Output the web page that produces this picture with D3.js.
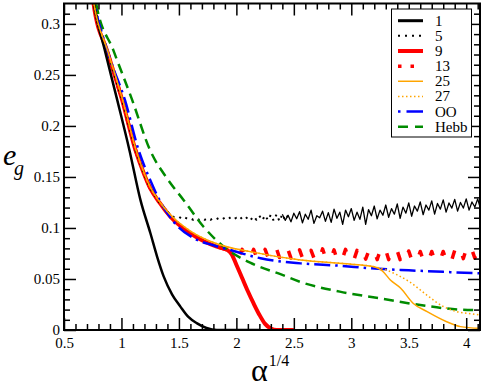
<!DOCTYPE html>
<html>
<head>
<meta charset="utf-8">
<script src="https://cdn.jsdelivr.net/npm/d3@7"></script>
<style>
  body { margin: 0; background: #fff; }
  svg text { font-family: "Liberation Serif", "DejaVu Serif", "Liberation Sans", sans-serif; }
</style>
</head>
<body>
<div id="chart"></div>
<script>
// e_g versus alpha^(1/4) for several rules

// series names (legend order)
var seriesNames = ["1", "5", "9", "13", "25", "27", "OO", "Hebb"];

// tick labels
var xTicks = [0.5, 1, 1.5, 2, 2.5, 3, 3.5, 4];
var yTicks = [0, 0.05, 0.1, 0.15, 0.2, 0.25, 0.3];

// smooth curves, [alpha^1/4, e_g]
var black1 = [[0.74, 0.335], [0.76, 0.32], [0.86, 0.272], [0.963, 0.2255], [1.07, 0.176], [1.165, 0.1275],
  [1.252, 0.0948], [1.31, 0.072], [1.368, 0.0523], [1.44, 0.035], [1.513, 0.0229], [1.58, 0.013],
  [1.658, 0.0065], [1.74, 0.002], [1.83, 0.0], [2.2, 0.0]];

var red9 = [[0.74, 0.335], [0.757, 0.32], [0.88, 0.272], [1.006, 0.2255], [1.12, 0.177], [1.2, 0.152],
  [1.25, 0.139], [1.33, 0.125], [1.426, 0.111], [1.6, 0.0948], [1.83, 0.0817], [1.92, 0.0785],
  [1.96, 0.074], [2.0, 0.064], [2.05, 0.051], [2.1, 0.038], [2.15, 0.026], [2.2, 0.015], [2.25, 0.006],
  [2.3, 0.0015], [2.35, 0.0], [2.5, 0.0]];

var orange25 = [[0.74, 0.335], [0.76, 0.32], [0.885, 0.272], [1.01, 0.2255], [1.125, 0.177], [1.2, 0.153],
  [1.25, 0.14], [1.33, 0.126], [1.43, 0.1125], [1.6, 0.097], [1.83, 0.0845], [2.12, 0.0768], [2.56, 0.0686],
  [3.0, 0.0645], [3.2, 0.062], [3.27, 0.058], [3.34, 0.049], [3.43, 0.0409], [3.54, 0.026], [3.66, 0.018],
  [3.83, 0.0081], [3.95, 0.0033], [4.12, 0.0016]];

var orange27 = [[0.74, 0.335], [0.76, 0.32], [0.885, 0.272], [1.01, 0.2255], [1.125, 0.177], [1.2, 0.153],
  [1.25, 0.14], [1.33, 0.126], [1.43, 0.1125], [1.6, 0.097], [1.83, 0.0845], [2.12, 0.0768], [2.56, 0.0686],
  [3.0, 0.0645], [3.2, 0.062], [3.3, 0.059], [3.4, 0.054], [3.51, 0.047], [3.66, 0.034], [3.8, 0.023],
  [3.92, 0.018], [4.0, 0.0165], [4.12, 0.0147]];

var blueOO = [[0.74, 0.335], [0.765, 0.32], [0.9, 0.266], [1.03, 0.2255], [1.15, 0.176], [1.25, 0.147],
  [1.33, 0.1275], [1.455, 0.106], [1.63, 0.0899], [1.8, 0.083], [1.948, 0.0784], [2.21, 0.0703],
  [2.56, 0.0653], [2.9, 0.063], [3.166, 0.0605], [3.5, 0.0585], [3.8, 0.057], [4.12, 0.0556]];

var greenHebb = [[0.77, 0.335], [0.78, 0.32], [0.93, 0.274], [1.093, 0.2255], [1.25, 0.176], [1.4, 0.148],
  [1.54, 0.1275], [1.716, 0.101], [1.92, 0.079], [2.12, 0.066], [2.4, 0.054], [2.56, 0.047], [2.9, 0.0376],
  [3.25, 0.031], [3.6, 0.0245], [3.95, 0.02], [4.12, 0.0196]];

// noisy plateaus: y read every 0.025 in alpha^1/4
var dot5Start = 1.425;
var dot5Y = [0.113, 0.111, 0.1105, 0.111, 0.109, 0.1105, 0.109, 0.1095, 0.108, 0.1095, 0.108, 0.1095, 0.108,
  0.1095, 0.108, 0.1095, 0.1085, 0.110, 0.1085, 0.110, 0.1085, 0.1105, 0.1085, 0.110, 0.108, 0.1105, 0.1085,
  0.111, 0.108, 0.1115, 0.108, 0.112, 0.1075, 0.1125, 0.1075, 0.113, 0.107, 0.1135, 0.1065,
  0.1135, 0.1075, 0.1125, 0.106, 0.1145, 0.109, 0.116, 0.105, 0.1135, 0.1085, 0.1175, 0.1045, 0.112, 0.110,
  0.1165, 0.1065, 0.115, 0.1055, 0.1185, 0.1095, 0.1155, 0.1035, 0.1175, 0.111, 0.119, 0.1075, 0.1155, 0.1085,
  0.1205, 0.1035, 0.118, 0.112, 0.1215, 0.109, 0.1175, 0.1125, 0.1225, 0.1105, 0.119, 0.1135, 0.1235, 0.1095,
  0.1205, 0.1145, 0.1245, 0.1115, 0.1215, 0.1165, 0.1255, 0.113, 0.1225, 0.1175, 0.1265, 0.1135, 0.124, 0.1185,
  0.1275, 0.1155, 0.1245, 0.1195, 0.128, 0.1165, 0.125, 0.1195, 0.1285, 0.1175, 0.1255, 0.1205, 0.1285, 0.1185];

var dot13Start = 1.95;
var dot13Y = [0.0775, 0.0735, 0.0795, 0.0725, 0.079, 0.0725, 0.0795, 0.072, 0.079, 0.0715, 0.0795, 0.0725,
  0.079, 0.0715, 0.0785, 0.072, 0.0795, 0.071, 0.079, 0.0715, 0.0785, 0.0705, 0.0795, 0.071, 0.0785, 0.0705,
  0.079, 0.0715, 0.078, 0.0705, 0.0785, 0.070, 0.0795, 0.071, 0.078, 0.0705, 0.0785, 0.0695, 0.078, 0.0705,
  0.079, 0.070, 0.0775, 0.0695, 0.078, 0.070, 0.0785, 0.0695, 0.077, 0.070, 0.078, 0.069, 0.0775, 0.0695,
  0.0785, 0.069, 0.077, 0.0695, 0.0775, 0.069, 0.077, 0.0685, 0.0775, 0.069, 0.0765, 0.0685, 0.077, 0.069,
  0.0765, 0.0685, 0.077, 0.069, 0.0765, 0.069, 0.077, 0.0685, 0.0775, 0.069, 0.078, 0.0695, 0.0785, 0.070,
  0.079, 0.070, 0.0785, 0.0705, 0.079, 0.070];

var step = 0.025;
var noisy5 = dot5Y.map((v, i) => [dot5Start + i * step, v]);
// rule 5: dotted while quiet, noise merges the dots into a jagged band further on
var black5Head = red9.slice(0, 8).concat(noisy5.filter(d => d[0] <= 2.45));
var black5Tail = noisy5.filter(d => d[0] >= 2.4);
var red13 = red9.slice(0, 12).concat(dot13Y.map((v, i) => [dot13Start + i * step, v]));

//Set up dimensions:
var svgWidth = 484;
var svgHeight = 388;
var plot = { left: 64, right: 480, top: 3.5, bottom: 330 };

var svg = d3.select("#chart")
    .append("svg")
    .attr("width", svgWidth)
    .attr("height", svgHeight);

svg.append("rect")
    .attr("width", svgWidth)
    .attr("height", svgHeight)
    .attr("fill", "#fff");

//Scales:
var x = d3.scaleLinear()
    .domain([0.5, 4.12])
    .range([plot.left, plot.right]);
var y = d3.scaleLinear()
    .domain([0, 0.32])
    .range([plot.bottom, plot.top]);

svg.append("clipPath")
    .attr("id", "clip")
    .append("rect")
    .attr("x", plot.left)
    .attr("y", plot.top)
    .attr("width", plot.right - plot.left)
    .attr("height", plot.bottom - plot.top);

//Styles per series
var styles = {
  "1":    { data: black1,     color: "#000000", width: 2.5, dash: null,         curve: d3.curveMonotoneX },
  "5":    { data: black5Head, color: "#000000", width: 2,   dash: "2,5",        curve: d3.curveLinear },
  "5b":   { data: black5Tail, color: "#000000", width: 1.3, dash: null,         curve: d3.curveLinear },
  "9":    { data: red9,       color: "#ff0000", width: 4,   dash: null,         curve: d3.curveMonotoneX },
  "13":   { data: red13,      color: "#ff0000", width: 3.5, dash: "8.5,25",     curve: d3.curveLinear },
  "25":   { data: orange25,   color: "#ffa500", width: 1.5, dash: null,         curve: d3.curveMonotoneX },
  "27":   { data: orange27,   color: "#ffa500", width: 1.5, dash: "1.5,2.5",    curve: d3.curveMonotoneX },
  "OO":   { data: blueOO,     color: "#0000ff", width: 2.5, dash: "16,5,2.5,5", curve: d3.curveMonotoneX },
  "Hebb": { data: greenHebb,  color: "#008b00", width: 2.5, dash: "10,6",       curve: d3.curveMonotoneX }
};

// drawing order: thick ones under thin ones
var drawOrder = ["13", "9", "5", "5b", "Hebb", "OO", "1", "27", "25"];

var lines = svg.append("g").attr("clip-path", "url(#clip)");
drawOrder.forEach(function(name) {
    var s = styles[name];
    var line = d3.line()
        .x(d => x(d[0]))
        .y(d => y(d[1]))
        .curve(s.curve);
    lines.append("path")
        .datum(s.data)
        .attr("d", line)
        .attr("fill", "none")
        .attr("stroke", s.color)
        .attr("stroke-width", s.width)
        .attr("stroke-dasharray", s.dash)
        .attr("stroke-linejoin", "round");
});

//Axes (ticks inside, mirrored on top/right)
var xMinor = d3.range(0.6, 4.12, 0.1).filter(v => Math.abs(v * 2 - Math.round(v * 2)) > 0.01);
var yMinor = d3.range(0.01, 0.32, 0.01).filter(v => Math.abs(v * 20 - Math.round(v * 20)) > 0.01);
var fmt = d => String(d);

function addAxis(axisFn, scale, pos, values, size, labels) {
    var g = svg.append("g")
        .attr("transform", pos)
        .call(axisFn(scale).tickValues(values).tickSizeInner(-size).tickSizeOuter(0)
            .tickPadding(7).tickFormat(labels ? fmt : ""));
    g.attr("font-family", null);
    g.select(".domain").remove();
    g.selectAll("line").attr("stroke", "#000").attr("stroke-width", 1.5);
    g.selectAll("text").attr("font-size", 15).attr("fill", "#000");
    return g;
}

addAxis(d3.axisBottom, x, `translate(0, ${plot.bottom})`, xTicks, 12, true);
addAxis(d3.axisBottom, x, `translate(0, ${plot.bottom})`, xMinor, 6, false);
addAxis(d3.axisTop, x, `translate(0, ${plot.top})`, xTicks, 12, false);
addAxis(d3.axisTop, x, `translate(0, ${plot.top})`, xMinor, 6, false);
var yl = addAxis(d3.axisLeft, y, `translate(${plot.left}, 0)`, yTicks, 12, true);
yl.selectAll("text").attr("dx", "0.2em");
addAxis(d3.axisLeft, y, `translate(${plot.left}, 0)`, yMinor, 6, false);
addAxis(d3.axisRight, y, `translate(${plot.right}, 0)`, yTicks, 12, false);
addAxis(d3.axisRight, y, `translate(${plot.right}, 0)`, yMinor, 6, false);

//Frame
svg.append("rect")
    .attr("x", plot.left)
    .attr("y", plot.top)
    .attr("width", plot.right - plot.left)
    .attr("height", plot.bottom - plot.top)
    .attr("fill", "none")
    .attr("stroke", "#000")
    .attr("stroke-width", 2);

//Axis titles
var xt = svg.append("text")
    .attr("x", 251)
    .attr("y", 381)
    .attr("fill", "#000");
xt.append("tspan").attr("font-size", 32).text("α");
xt.append("tspan").attr("font-size", 16).attr("dy", -15).attr("dx", 1).text("1/4");

svg.append("text")
    .attr("x", 3)
    .attr("y", 165)
    .attr("font-size", 30)
    .attr("font-style", "italic")
    .text("e");
svg.append("text")
    .attr("x", 14)
    .attr("y", 175)
    .attr("font-size", 20)
    .attr("font-style", "italic")
    .text("g");

//Legend
var legend = svg.append("g");
legend.append("rect")
    .attr("x", 391.5)
    .attr("y", 9)
    .attr("width", 80)
    .attr("height", 128)
    .attr("fill", "#fff")
    .attr("stroke", "#000")
    .attr("stroke-width", 1);

var legendY = d3.scalePoint()
    .domain(seriesNames)
    .range([20.7, 126.7]);

var legendDash = { "5": "2,5", "13": "3.5,9", "27": "1.5,2.5", "OO": "2.5,6,17,5", "Hebb": "10,7" };

seriesNames.forEach(function(name) {
    var s = styles[name];
    legend.append("line")
        .attr("x1", 398)
        .attr("x2", 423)
        .attr("y1", legendY(name))
        .attr("y2", legendY(name))
        .attr("stroke", s.color)
        .attr("stroke-width", name === "1" ? 3 : (name === "5" ? 2 : s.width))
        .attr("stroke-dasharray", legendDash[name] || null);
    legend.append("text")
        .attr("x", 435)
        .attr("y", legendY(name) + 5)
        .attr("font-size", 15)
        .text(name);
});
</script>
</body>
</html>
